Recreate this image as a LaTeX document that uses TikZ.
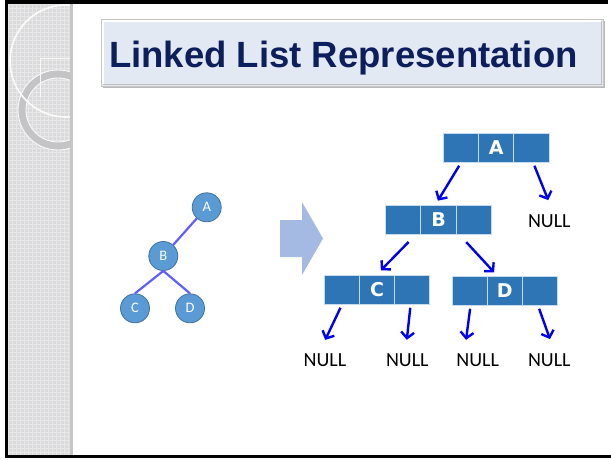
\documentclass[tikz,border=0pt]{standalone}
\usepackage{fontspec}
\setmainfont{Liberation Sans}
\newfontfamily\calib{Carlito}
\newfontfamily\dvs{DejaVu Sans}
\usetikzlibrary{arrows.meta}
\definecolor{cellblue}{RGB}{46,117,182}
\definecolor{cellline}{RGB}{200,218,238}
\definecolor{treefill}{RGB}{91,155,213}
\definecolor{treeline}{RGB}{65,113,156}
\definecolor{edgeblue}{RGB}{95,95,255}
\definecolor{arrblue}{RGB}{0,0,240}
\definecolor{bigarrow}{RGB}{165,186,226}
\definecolor{titlecol}{RGB}{12,30,92}
\definecolor{titlefill}{RGB}{227,233,242}
\definecolor{stripcol}{RGB}{218,218,220}
\definecolor{ringcol}{RGB}{196,196,198}
\begin{document}
\begin{tikzpicture}[x=1pt,y=-1pt,
  treenode/.style={circle,fill=treefill,draw=treeline,line width=0.8pt,minimum size=29pt,inner sep=0pt,text=white,font=\calib\fontsize{14.5}{14.5}\selectfont},
  treeedge/.style={draw=edgeblue,line width=2.2pt},
  cell/.style={rectangle,fill=cellblue,draw=cellline,line width=0.9pt,minimum width=35.2pt,minimum height=29pt,inner sep=0pt,text=white,font=\dvs\bfseries\fontsize{19}{19}\selectfont},
  nulltext/.style={inner sep=0pt,text height=12pt,text depth=0pt,font=\calib\fontsize{20}{20}\selectfont},
  arr/.style={draw=arrblue,line width=2.4pt,-{Straight Barb[length=6pt,width=13pt]}}
]
\useasboundingbox (0,0) rectangle (611,459);
\fill[white] (0,0) rectangle (611,459);
% left decorative strip
\fill[stripcol] (8,4) rectangle (72,455);
\begin{scope}
\clip (8,4) rectangle (72,455);
\draw[white!35!stripcol,line width=0.4pt,step=4pt] (8,4) grid (72,455);
\draw[ringcol,line width=8pt] (58,110) circle[radius=36];
\draw[white!85!stripcol,line width=0.9pt] (58,110) circle[radius=40];
\draw[white!85!stripcol,line width=0.9pt] (58,110) circle[radius=32];
\draw[white!90!stripcol,line width=1.6pt] (66,61) circle[radius=56];
\draw[white!80!stripcol,line width=1pt] (72,58) -- (40,58) -- (40,97);
\end{scope}
\fill[gray!45] (70,4) rectangle (72.5,455);
% black frame
\fill[black] (5,0) rectangle (608,3.8);
\fill[black] (5,0) rectangle (8,458);
\fill[black] (5,455) rectangle (611,458);
% title box
\fill[gray!55] (103,21) rectangle (605,88);
\fill[titlefill] (101,19) rectangle (603,86);
\draw[gray!45,line width=0.8pt] (101,19) rectangle (603,86);
\draw[white,line width=1.2pt] (103,84) -- (103,21) -- (601,21);
\draw[gray!50,line width=1pt] (103,84) -- (601,84) -- (601,21);
\node[anchor=base west,inner sep=0pt,text=titlecol,font=\bfseries\fontsize{36.5}{40}\selectfont] (title) at (109,67.3) {Linked List Representation};
% small tree
\node[treenode] (tA) at (206.7,207.3) {A};
\node[treenode] (tB) at (163.3,256) {B};
\node[treenode] (tC) at (135,308.3) {C};
\node[treenode] (tD) at (190,308.3) {D};
\draw[treeedge] (tA) -- (tB);
\draw[treeedge] (tB.south) -- (tC.north);
\draw[treeedge] (tB.south) -- (tD.north);
% big arrow
\fill[bigarrow] (280,220) -- (302,220) -- (302,202) -- (323,238.5) -- (302,275) -- (302,257) -- (280,257) -- cycle;
% linked list nodes
\node[cell] (A1) at (461,147.8) {};
\node[cell] (A2) at (496.2,147.8) {A};
\node[cell] (A3) at (531.4,147.8) {};
\node[cell] (B1) at (403.3,219.5) {};
\node[cell] (B2) at (438.5,219.5) {B};
\node[cell] (B3) at (473.7,219.5) {};
\node[cell] (C1) at (341.9,289.8) {};
\node[cell] (C2) at (377.1,289.8) {C};
\node[cell] (C3) at (412.3,289.8) {};
\node[cell] (D1) at (469.6,290.8) {};
\node[cell] (D2) at (504.8,290.8) {D};
\node[cell] (D3) at (540,290.8) {};
% NULL labels
\node[nulltext] (N1) at (549.3,221.7) {NULL};
\node[nulltext] (N2) at (325,360) {NULL};
\node[nulltext] (N3) at (407.3,360) {NULL};
\node[nulltext] (N4) at (477.7,360) {NULL};
\node[nulltext] (N5) at (549.3,360) {NULL};
% pointers
\draw[arr,shorten <=3.5pt,shorten >=4.6pt] (A1.south) -- ([xshift=-3pt]B2.north);
\draw[arr,shorten <=3.2pt,shorten >=16.6pt] ([xshift=1.8pt]A3.south) -- ([xshift=5.1pt]N1.north);
\draw[arr,shorten <=10.6pt,shorten >=6.4pt] ([xshift=12.7pt]B1.south) -- ([xshift=-0.7pt]C2.north);
\draw[arr,shorten <=10.4pt,shorten >=4.9pt] ([xshift=-14.5pt]B3.south) -- ([xshift=-7.4pt]D2.north);
\draw[arr,shorten <=3.3pt,shorten >=15.4pt] (C1.south) -- ([xshift=-6.4pt]N2.north);
\draw[arr,shorten <=3pt,shorten >=14.1pt] ([xshift=-1.7pt]C3.south) -- ([xshift=-2pt]N3.north);
\draw[arr,shorten <=3pt,shorten >=14.1pt] ([xshift=0.9pt]D1.south) -- ([xshift=-13.5pt]N4.north);
\draw[arr,shorten <=3.2pt,shorten >=15.6pt] ([xshift=-1.9pt]D3.south) -- ([xshift=5.9pt]N5.north);
\end{tikzpicture}
\end{document}
